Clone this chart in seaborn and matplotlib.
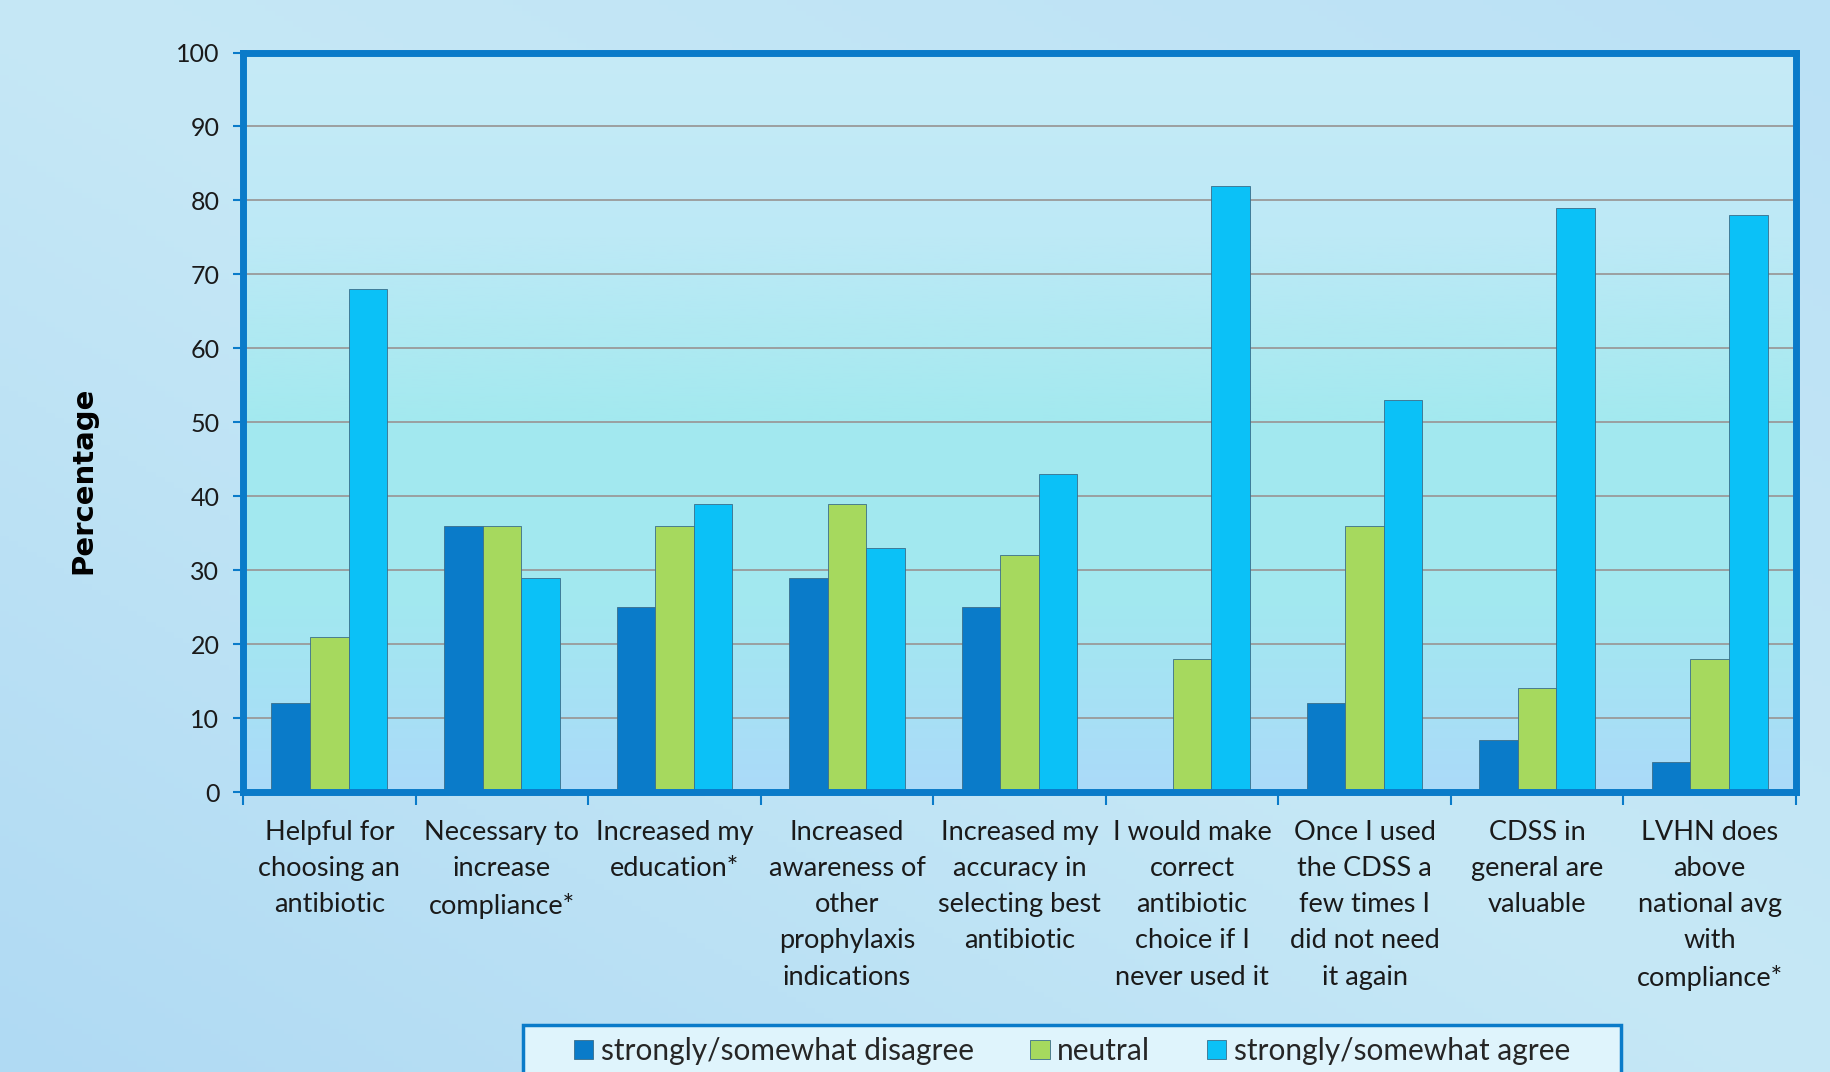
import numpy as np
import pandas as pd
import matplotlib
matplotlib.use("Agg")
import matplotlib.pyplot as plt
import seaborn as sns
from matplotlib.colors import LinearSegmentedColormap
from matplotlib.patches import Rectangle

categories = [
    "Helpful for\nchoosing an\nantibiotic",
    "Necessary to\nincrease\ncompliance*",
    "Increased my\neducation*",
    "Increased\nawareness of\nother\nprophylaxis\nindications",
    "Increased my\naccuracy in\nselecting best\nantibiotic",
    "I would make\ncorrect\nantibiotic\nchoice if I\nnever used it",
    "Once I used\nthe CDSS a\nfew times I\ndid not need\nit again",
    "CDSS in\ngeneral are\nvaluable",
    "LVHN does\nabove\nnational avg\nwith\ncompliance*",
]
series_names = ["strongly/somewhat disagree", "neutral", "strongly/somewhat agree"]
disagree = [12, 36, 25, 29, 25, 0, 12, 7, 4]
neutral = [21, 36, 36, 39, 32, 18, 36, 14, 18]
agree = [68, 29, 39, 33, 43, 82, 53, 79, 78]
y_ticks = [0, 10, 20, 30, 40, 50, 60, 70, 80, 90, 100]

colors = ["#0A7BC9", "#A6D95E", "#0BC1F7"]

df = pd.DataFrame({
    "category": categories * 3,
    "series": [series_names[0]] * 9 + [series_names[1]] * 9 + [series_names[2]] * 9,
    "value": disagree + neutral + agree,
})

sns.set_theme(style="white")
plt.rcParams["font.family"] = ["Lato", "DejaVu Sans"]

W, H = 1831, 1072
fig = plt.figure(figsize=(W / 100, H / 100), dpi=100)
fig.patch.set_facecolor("#BFE4F5")

# subtle figure background gradient
bg = fig.add_axes([0, 0, 1, 1], zorder=-10)
bg.axis("off")
gx = np.linspace(0, 1, 200)
GX, GY = np.meshgrid(gx, gx)
bgcmap = LinearSegmentedColormap.from_list("bg", ["#B0DAF3", "#C6E8F6", "#BBE1F5"])
bg.imshow(0.5 * GX + 0.5 * GY, cmap=bgcmap, aspect="auto", extent=[0, 1, 0, 1], origin="lower")
bg.set_xlim(0, 1)
bg.set_ylim(0, 1)

ax = fig.add_axes([243 / W, 1 - 792 / H, (1796 - 243) / W, (792 - 52.5) / H])
ax.set_facecolor("none")

# plot area gradient
acmap = LinearSegmentedColormap.from_list("ab", ["#ABDAF9", "#A2E8F0", "#A3E9EF", "#BDE9F6", "#C6EBF7"])
ax.imshow(np.linspace(0, 1, 256).reshape(-1, 1), cmap=acmap, aspect="auto",
          extent=[0, 1, 0, 1], origin="lower", transform=ax.transAxes, zorder=-5)

sns.barplot(data=df, x="category", y="value", hue="series", palette=colors,
            width=0.67, gap=0, ax=ax, edgecolor="#3A6E8A", linewidth=0.6,
            saturation=1, zorder=3)

ax.set_ylim(0, 100)
ax.set_xlim(-0.5, 8.5)
ax.set_yticks(y_ticks)
ax.set_yticklabels([str(t) for t in y_ticks], fontsize=18, color="#1a1a1a")
ax.yaxis.grid(True, color="#9A9A9A", linewidth=1.3, zorder=1)
ax.set_axisbelow(True)

ax.set_xticks(range(9))
ax.set_xticklabels(categories, fontsize=19.5, color="#1a1a1a", linespacing=1.56)
ax.tick_params(axis="x", which="major", length=0, pad=20)
# boundary ticks
ax.set_xticks(np.arange(-0.5, 9.0, 1.0), minor=True)
ax.tick_params(axis="x", which="minor", bottom=True, length=9, width=1.5,
               color="#0A7BC9", direction="out")
ax.tick_params(axis="y", length=7, width=1.5, color="#0A7BC9", direction="out", pad=10, left=True)

for sp in ax.spines.values():
    sp.set_visible(True)
    sp.set_color("#0A7BC9")
    sp.set_linewidth(5)
    sp.set_zorder(6)

ax.set_xlabel("")
ax.set_ylabel("Percentage", fontsize=21, fontweight="bold", color="black",
              family=["DejaVu Sans"])
ax.yaxis.set_label_coords(-0.094, 0.422)

handles, labels = ax.get_legend_handles_labels()
ax.legend_.remove()

# legend frame (cut by bottom edge as in the reference)
fig.patches.append(Rectangle((523 / W, -0.05), (1621 - 523) / W, (1 - 1025 / H) + 0.05,
                             transform=fig.transFigure, facecolor="#DFF4FC",
                             edgecolor="#0A7BC9", linewidth=2.5, zorder=0))
leg = fig.legend(handles, labels, loc="center", bbox_to_anchor=(1072 / W, 1 - 1051 / H),
                 ncol=3, frameon=False, fontsize=21.5, handlelength=0.65, handleheight=0.65,
                 handletextpad=0.25, columnspacing=1.9, borderpad=0, borderaxespad=0)

fig.savefig("out.png", dpi=100, facecolor=fig.get_facecolor())
